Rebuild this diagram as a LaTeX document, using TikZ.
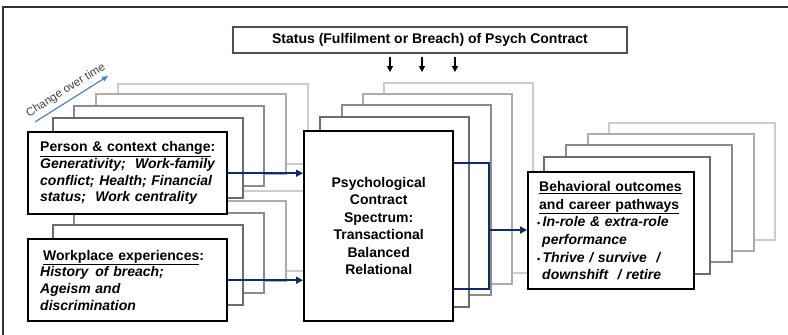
\documentclass[tikz,border=0pt]{standalone}
\usepackage{fontspec}
\setmainfont{Liberation Sans}
\usepackage{tikz}
\usepackage{xcolor}
\usetikzlibrary{positioning, calc, arrows.meta}

\definecolor{navy}{RGB}{18,42,108}
\definecolor{steel}{RGB}{79,129,189}
\definecolor{slate}{RGB}{70,80,95}

\tikzset{
  layer/.style={rectangle, draw=#1, line width=1.6pt, fill=white, inner sep=0pt, anchor=north west},
  front/.style={rectangle, draw=black, line width=2.4pt, fill=white, anchor=north west,
    font=\fontsize{14}{16.7}\selectfont\bfseries},
  flow/.style={draw=navy, line width=2pt, -{Triangle[length=7pt,width=7pt]}},
  flowline/.style={draw=navy, line width=2pt},
  tick/.style={draw=black, line width=1.2pt, -{Triangle[length=6pt,width=6pt]}},
}

\begin{document}
\begin{tikzpicture}[x=1pt,y=-1pt]
    \useasboundingbox (0,0) rectangle (788,335);
    \draw[black!80, line width=1.4pt] (3,335) -- (3,7) -- (788,7);

    % lower left stack
    \foreach \dx/\dy/\c [count=\k] in {90/48/black!20, 68/38/black!32, 46/26/black!45, 25/14/black!58}
        \node[layer=\c, minimum width=190pt, minimum height=80pt] (wb\k) at (27+\dx,238-\dy) {};
    \node[front, minimum width=199pt, minimum height=82pt, text width=175pt, inner xsep=12pt, align=left] (work) at (27,238)
        {\hspace*{3pt}\underline{Workplace experiences}:\\
         \textit{History\, of breach;}\\
         \textit{Ageism and}\\
         \textit{discrimination}};

    % upper left stack
    \foreach \dx/\dy/\c [count=\k] in {90/48/black!20, 68/38/black!32, 46/26/black!45, 25/14/black!58}
        \node[layer=\c, minimum width=190pt, minimum height=80pt] (pb\k) at (27+\dx,131-\dy) {};
    \node[front, minimum width=199pt, minimum height=82pt, text width=175pt, inner xsep=12pt, align=left] (person) at (27,131)
        {\mbox{\underline{Person \& context change}:}\\
         \mbox{\textit{Generativity;\ \ Work-family}}\\
         \mbox{\textit{conflict; Health; Financial}}\\
         \mbox{\textit{status;\ \ Work centrality}}};

    % centre stack
    \foreach \dx/\dy/\c [count=\k] in {80/48/black!20, 59/37/black!32, 38/26/black!45, 16/14/black!58}
        \node[layer=\c, minimum width=149pt, minimum height=190pt] (sb\k) at (303+\dx,130-\dy) {};
    \node[front, minimum width=149pt, minimum height=190pt, text width=135pt, inner xsep=7pt, align=center,
        font=\fontsize{14}{17.5}\selectfont\bfseries] (spectrum) at (303,130)
        {Psychological\\Contract\\Spectrum:\\Transactional\\Balanced\\Relational};

    % right stack
    \foreach \dx/\dy/\c [count=\k] in {81/49/black!20, 60/38/black!32, 38/27/black!45, 16/15/black!58}
        \node[layer=\c, minimum width=166pt, minimum height=117pt] (ob\k) at (527+\dx,171-\dy) {};
    \node[front, minimum width=166pt, minimum height=117pt, text width=148pt, inner xsep=9pt, align=left,
        font=\fontsize{14}{17.6}\selectfont\bfseries] (outcome) at (527,171)
        {\hspace*{2pt}\underline{Behavioral outcomes}\\
         \hspace*{2pt}\underline{and career pathways}\\
         {\fontsize{9}{9}\selectfont\textbullet}\,\textit{In-role \& extra-role}\\
         \hspace*{5pt}\textit{performance}\\
         {\fontsize{9}{9}\selectfont\textbullet}\,\textit{Thrive / survive\ \ /}\\
         \hspace*{5pt}\textit{downshift\ \ / retire}};

    % status box
    \node[rectangle, draw=slate, line width=1.2pt, fill=white, minimum width=394pt, minimum height=26pt,
        font=\fontsize{14}{16}\selectfont\bfseries] (status) at (430,40)
        {Status (Fulfilment or Breach) of Psych Contract};
    \foreach \x [count=\k] in {390,422,455} {
        \coordinate (t\k) at (\x,72);
        \draw[tick, shorten <=3pt] (status.south -| t\k) -- (t\k);
    }

    % flows
    \draw[flow] (person.east) -- (person.east -| spectrum.west);
    \draw[flow] (work.east) -- (work.east -| spectrum.west);
    \coordinate (jt) at (489,163);
    \coordinate (jb) at (489,289);
    \coordinate (jm) at (489,230);
    \draw[flowline] (spectrum.east |- jt) -- (jt) -- (jb) -- (spectrum.east |- jb);
    \draw[flow] (jm) -- (outcome.west |- jm);

    % time arrow
    \coordinate (c0) at (35,122);
    \coordinate (c1) at (108,76);
    \draw[steel, line width=1.2pt, -{Triangle[length=6pt,width=5pt]}] (c0) -- (c1)
        node[midway, above=1pt, sloped, text=black!75, font=\fontsize{11.5}{12}\selectfont] (time) {Change over time};
\end{tikzpicture}
\end{document}
